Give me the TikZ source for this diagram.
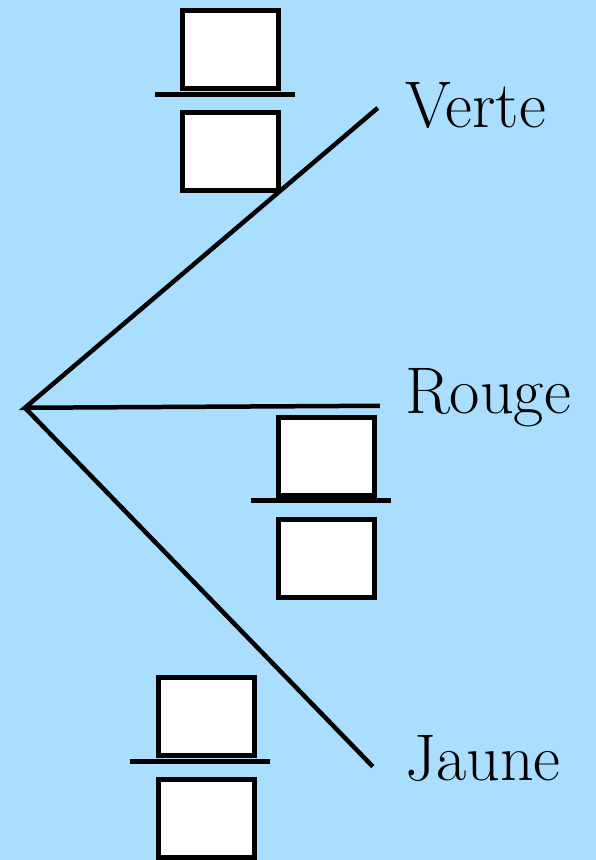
\documentclass[tikz,border=0pt]{standalone}
\usepackage{tikz}
\usetikzlibrary{positioning}
\definecolor{skyblue}{RGB}{170,222,255}
\tikzset{
		blank/.style={draw,fill=white,line width=5pt,minimum width=96pt,minimum height=78pt,inner sep=0pt},
		fracbar/.style={fill=black,minimum width=140pt,minimum height=5pt,inner sep=0pt},
		colour/.style={anchor=base west,inner sep=0pt,font=\fontsize{66}{79}\selectfont}
	}

\begin{document}
\begin{tikzpicture}[x=1pt,y=-1pt,line width=4.5pt]
				\fill[skyblue] (0,0) rectangle (596,860);

				\coordinate (root) at (25,408);
				\coordinate (v)    at (378,108);
				\coordinate (r)    at (380,406);
				\coordinate (j)    at (373,767);

				\node[colour] (verte) at (403,128) {Verte};
				\node[colour] (rouge) at (403,414) {Rouge};
				\node[colour] (jaune) at (403,781) {Jaune};

				\draw (v) -- (root) -- (r);
				\draw (root) -- (j);

				\node[fracbar] (barv) at (225,94.5) {};
				\node[blank]   (numv) at (231,49.5) {};
				\node[blank]   (denv) at (231,152)  {};

				\node[fracbar] (barr) at (321,501)   {};
				\node[blank]   (numr) at (326.5,456.5) {};
				\node[blank]   (denr) at (326.5,559)   {};

				\node[fracbar] (barj) at (200.5,762) {};
				\node[blank]   (numj) at (206.5,717) {};
				\node[blank]   (denj) at (206.5,819) {};
			\end{tikzpicture}
\end{document}
